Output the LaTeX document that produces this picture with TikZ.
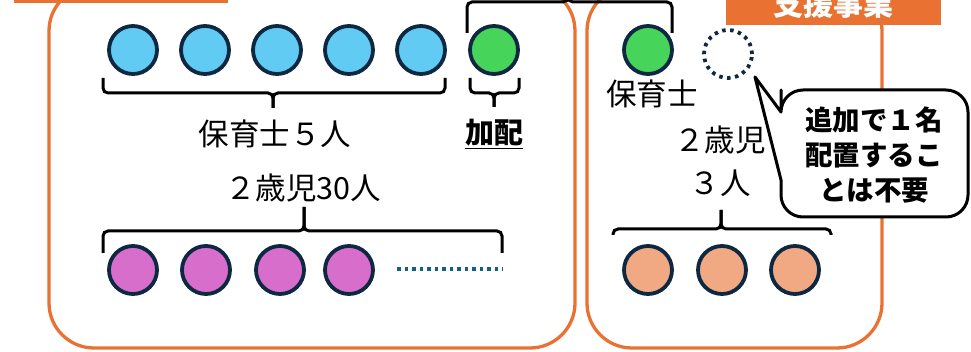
\documentclass[tikz,border=0pt]{standalone}
\usepackage{fontspec}
\setmainfont{Noto Sans CJK JP}
\definecolor{oran}{HTML}{E97132}
\definecolor{navy}{HTML}{0E2841}
\definecolor{cblue}{HTML}{61CBF3}
\definecolor{cgreen}{HTML}{47D45A}
\definecolor{cpink}{HTML}{D86ECC}
\definecolor{corange}{HTML}{F1A983}
\definecolor{dotblue}{HTML}{156082}
\tikzset{
  person/.style={circle, minimum size=48pt, inner sep=0pt, line width=3.8pt, draw=navy},
  pblue/.style={person, fill=cblue},
  pgreen/.style={person, fill=cgreen},
  ppink/.style={person, fill=cpink},
  porange/.style={person, fill=corange},
  pempty/.style={circle, minimum size=48pt, inner sep=0pt, draw=navy, line width=3.8pt, dash pattern=on 3.5pt off 4.5pt},
  groupbox/.style={draw=oran, line width=3.3pt, rounded corners=45pt},
  bracepath/.style={draw=black, line width=3pt, rounded corners=5pt},
  lbl/.style={font=\fontsize{30.5}{36}\selectfont, inner sep=0pt},
  blbl/.style={font=\fontsize{29}{36}\selectfont\bfseries, inner sep=0pt},
}
\begin{document}
\begin{tikzpicture}[x=1pt,y=-1pt]
\useasboundingbox (0,0) rectangle (971,352);
\clip (0,0) rectangle (971,352);
% group boxes
\draw[groupbox] (49,-14) rectangle (575,348);
\draw[groupbox] (587,-14) rectangle (882,348);
% header bars (cropped)
\fill[oran] (14,-20) rectangle (228,3);
\fill[oran] (726,-20) rectangle (941,25);
\node[font=\fontsize{30}{34}\selectfont\bfseries, text=white, inner sep=0pt] (hdr) at (833,4) {支援事業};
% top bracket
\draw[bracepath] (467,33) -- (467,2) -- (568,2) -- (568,-10);
\draw[bracepath] (672,33) -- (672,2) -- (568,2) -- (568,-10);
% blue staff
\node[pblue] (b1) at (133,50) {};
\node[pblue] (b2) at (205,50) {};
\node[pblue] (b3) at (277,50) {};
\node[pblue] (b4) at (349,50) {};
\node[pblue] (b5) at (421,50) {};
\node[pgreen] (g1) at (494,50) {};
\node[pgreen] (g2) at (648,50) {};
\node[pempty] (e1) at (728,54) {};
% braces under staff
\draw[bracepath] (103,78) -- (103,93) -- (273,93) -- (273,108);
\draw[bracepath] (445,78) -- (445,93) -- (273,93) -- (273,108);
\draw[bracepath] (470,78) -- (470,93) -- (494,93) -- (494,107);
\draw[bracepath] (519,78) -- (519,93) -- (494,93) -- (494,107);
% labels
\node[lbl] (t1) at (275,134) {保育士５人};
\node[blbl] (t2) at (494,134) {\underline{加配}};
\node[lbl] (t3) at (303,188) {２歳児30人};
\node[lbl] (t4) at (652,94) {保育士};
\node[lbl] (t5) at (720,140) {２歳児};
\node[lbl] (t6) at (720,183) {３人};
% braces over children
\draw[bracepath] (103,253) -- (103,231) -- (304,231) -- (304,207);
\draw[bracepath] (502,253) -- (502,231) -- (304,231) -- (304,207);
\draw[bracepath] (613,235) -- (613,229) -- (721,229) -- (721,210);
\draw[bracepath] (831,235) -- (831,229) -- (721,229) -- (721,210);
% children
\node[ppink] (k1) at (133,270) {};
\node[ppink] (k2) at (206,270) {};
\node[ppink] (k3) at (280,270) {};
\node[ppink] (k4) at (349,270) {};
\coordinate (d1) at (397,269);
\coordinate (d2) at (503,269);
\draw[dotblue, line width=3.5pt, dash pattern=on 3.5pt off 4pt] (d1) -- (d2);
\node[porange] (o1) at (648,270) {};
\node[porange] (o2) at (722,270) {};
\node[porange] (o3) at (795,270) {};
% callout
\draw[fill=white, line width=3pt, line join=round] (781,112) -- (755,77) -- (781,180) [rounded corners=22pt] -- (781,217) -- (968,217) -- (968,90) -- (781,90) -- (781,112) [sharp corners] -- cycle;
\node[align=center, inner sep=0pt, font=\fontsize{27.5}{35}\selectfont\bfseries] (call) at (874,155) {追加で１名\\配置するこ\\とは不要};
\end{tikzpicture}
\end{document}
